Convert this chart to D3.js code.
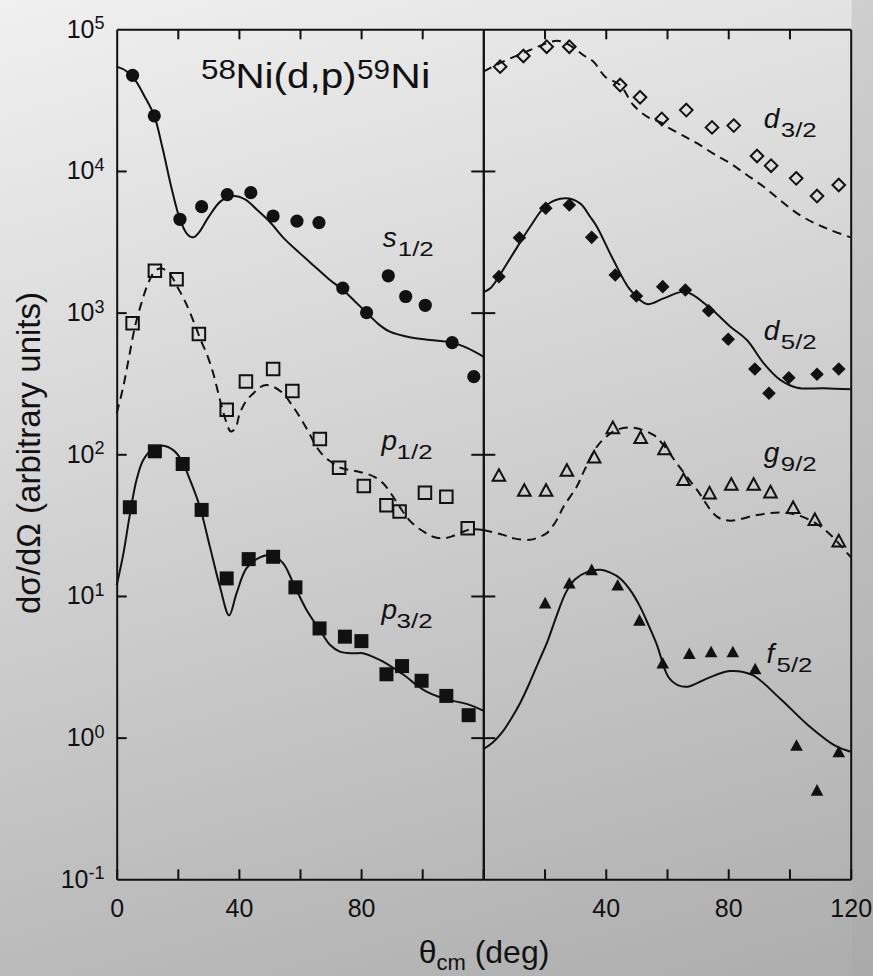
<!DOCTYPE html>
<html>
<head>
<meta charset="utf-8">
<script src="https://cdn.jsdelivr.net/npm/d3@7"></script>
<style>
  html, body { margin: 0; padding: 0; background: #dcdcdc; }
  svg { display: block; font-family: "Liberation Sans", Arial, Helvetica, sans-serif; }
</style>
</head>
<body>
<svg id="chart" width="873" height="976"></svg>
<script>
// 58Ni(d,p)59Ni angular distributions: measured points [theta_cm (deg), dsigma/dOmega]
const s12Data = [[5.2,47300],[12.3,24500],[20.7,4560],[27.8,5600],[36.2,6800],[43.9,7030],[51.2,4810],[59.0,4430],[66.2,4320],[74.0,1490],[81.8,1000],[88.9,1820],[94.6,1300],[101.0,1127],[109.8,614],[116.9,353]];
const p12Data = [[5.2,841],[12.5,1977],[19.6,1720],[26.9,706],[36.0,206],[42.3,326],[51.2,400],[57.5,280],[66.5,128],[72.8,80.5],[80.9,59.7],[88.3,43.6],[92.6,39.4],[100.9,53.6],[107.9,50.2],[114.9,30.1]];
const p32Data = [[4.3,42.3],[12.5,105],[21.6,85.4],[27.8,40.5],[36.0,13.3],[43.2,18.2],[51.2,18.9],[58.5,11.5],[66.4,5.9],[74.7,5.16],[80.1,4.8],[88.3,2.8],[93.4,3.2],[99.8,2.52],[107.9,1.97],[115.2,1.44]];
const d32Data = [[5.5,54500],[13.1,64800],[20.7,75400],[28.1,75400],[44.7,40400],[51.2,33100],[58.3,23300],[66.3,26900],[74.7,20300],[81.8,20900],[89.4,12760],[94.0,10900],[102.2,8870],[109.0,6650],[116.1,7960]];
const d52Data = [[5.1,1795],[11.8,3380],[20.4,5450],[28.1,5750],[35.4,3400],[43.1,1845],[50.0,1310],[58.6,1525],[66.0,1445],[73.6,1032],[80.0,649],[88.7,400],[93.3,270],[99.8,347],[109.0,367],[116.1,400]];
const g92Data = [[5.1,71.4],[13.4,56.0],[20.5,56.0],[27.3,77.5],[36.2,96.2],[42.3,155],[51.4,132],[59.2,110],[65.4,66.6],[73.9,53.6],[81.0,61.7],[88.3,61.7],[93.8,54.5],[101.2,42.3],[108.3,34.8],[116.1,24.6]];
const f52Data = [[20.2,8.97],[28.1,12.4],[35.4,15.4],[43.9,12.0],[51.0,6.78],[58.6,3.38],[67.3,3.94],[74.4,4.05],[81.5,4.05],[88.8,3.08],[102.3,0.887],[109.0,0.428],[116.1,0.8]];

// DWBA calculations, sampled along theta_cm
const s12Calc = [[0,54500],[3,51000],[6,44000],[9,34000],[12.3,24500],[15,14500],[18,7500],[20.7,4560],[23,3600],[25,3400],[27,3700],[30,4700],[34,6100],[38,6650],[42,6300],[46,5300],[50,4400],[55,3300],[60,2620],[65,2100],[69.8,1700],[74,1450],[78,1200],[81.8,1000],[86,820],[89.4,734],[95.9,670],[102.5,641],[109.9,614],[115,560],[120,490]];
const p12Calc = [[0,195],[2,290],[4,480],[6,800],[8,1150],[10,1550],[12,1900],[14,2050],[16,2000],[18,1800],[20,1500],[22,1250],[24,1000],[26,780],[27.5,640],[29.4,516],[31.6,373],[33.8,242],[36,166],[37.3,145],[38.8,152],[40.3,195],[42.5,240],[44.7,269],[47,298],[49,308],[51.5,298],[54.5,269],[57.2,225],[59.9,184],[62.7,145],[65.4,113],[68,96],[70.8,86.5],[73.5,80],[76.3,77.5],[79,75.5],[81.8,73],[84.5,69],[87.2,62.5],[90,52],[92.6,42.7],[95.4,35],[98.1,30.8],[101,28],[103.5,26.2],[106.8,25.5],[110,26.5],[113,28.2],[116,29.5],[120,29.2]];
const p32Calc = [[0,11.9],[2.2,20],[4.35,38],[6.5,66],[8.7,91],[12,110],[15.3,115],[18.5,107],[21.2,91],[24,66],[27.2,42.7],[30.5,22.3],[33.8,11.6],[36.8,7.3],[39.2,10.4],[42.5,15.7],[46.9,18.7],[50.7,19.5],[54.5,17],[57.8,12.3],[62.1,8.0],[66.5,5.75],[69.8,4.52],[73,4.05],[77.4,3.94],[80.6,3.94],[83.9,3.72],[87.2,3.44],[91.6,3.0],[94.8,2.69],[98.1,2.35],[101.4,2.11],[105.2,1.95],[109,1.84],[114.5,1.73],[120,1.55]];
const d32Calc = [[0,50200],[3.5,55000],[7.6,60700],[11.5,66000],[15.3,71400],[19.5,78000],[24,83100],[27,80000],[30.5,71400],[33,65000],[36,59000],[39.8,46300],[44.7,40400],[49,29200],[53.9,23900],[58,22000],[60,20500],[65.4,17700],[69.8,15700],[75,13300],[80.7,11300],[86,9400],[91.6,7740],[97,6200],[102.5,5020],[108,4300],[113.4,3830],[120,3400]];
const d52Calc = [[0,1390],[2.5,1500],[5.1,1800],[9.8,2620],[15.3,4040],[20.7,5750],[26.7,6410],[31.6,5910],[34.9,4750],[37.1,4040],[42.5,2350],[48,1445],[53.4,1150],[58.9,1260],[66,1405],[73.6,1100],[80.7,796],[86.1,641],[91.6,439],[97,335],[102.5,295],[111.2,292],[120,288]];
const g92Calc = [[0,29.2],[6.5,27],[10,25.5],[15.3,24.9],[18.5,26.2],[20.7,27.7],[24,34.4],[26.2,42.7],[30.5,59],[33,77],[37.1,113],[40,132],[43.6,149],[49,154],[55.6,137],[59,115],[63.2,86.4],[69.8,56],[76.3,36.3],[80.7,34],[89.4,37.3],[97,38.8],[102.5,37.3],[109,32.2],[113,27.5],[116.1,23.5],[120,18.8]];
const f52Calc = [[0,0.83],[3,0.92],[6,1.08],[9,1.35],[12,1.75],[15,2.4],[18,3.4],[21,4.8],[24,7.3],[27,10.6],[30,13.1],[34,14.8],[38.2,15.3],[41.5,14.6],[44.7,13.3],[48,11.0],[51.2,8.41],[54,6.2],[56.7,4.52],[60.4,2.69],[63.5,2.35],[66.8,2.29],[73.2,2.62],[80.5,2.95],[87.8,2.77],[96.9,1.89],[106,1.23],[115.1,0.873],[120,0.796]];

// tick values and labels
const yDecades = [1e5, 1e4, 1e3, 1e2, 1e1, 1e0, 1e-1];
const xTicks = [0, 20, 40, 60, 80, 100, 120];
const xLabelsLeft = [0, 40, 80];
const xLabelsRight = [40, 80, 120];

const svg = d3.select("#chart");
const W = 873, H = 976;
const ink = "#111";

// ---- background ----
const defs = svg.append("defs");
const bg = defs.append("linearGradient").attr("id", "bg")
  .attr("gradientUnits", "userSpaceOnUse")
  .attr("x1", 0).attr("y1", 0).attr("x2", 317).attr("y2", 1132);
bg.append("stop").attr("offset", 0).attr("stop-color", "#f0f0f0");
bg.append("stop").attr("offset", 1).attr("stop-color", "#adadad");
const edge = defs.append("linearGradient").attr("id", "edge")
  .attr("x1", 0).attr("y1", 0).attr("x2", 0).attr("y2", 1);
edge.append("stop").attr("offset", 0).attr("stop-color", "#000").attr("stop-opacity", 0.09);
edge.append("stop").attr("offset", 1).attr("stop-color", "#000").attr("stop-opacity", 0.02);
svg.append("rect").attr("width", W).attr("height", H).attr("fill", "url(#bg)");

// ---- scales ----
const x0 = 116.7, xMid = 483.3, x1 = 850.7, yTop = 29.3, yBot = 879.3;
svg.append("rect").attr("x", x1 + 1).attr("y", 0).attr("width", W - x1 - 1).attr("height", H).attr("fill", "url(#edge)");

const xL = d3.scaleLinear().domain([0, 120]).range([x0, xMid]);
const xR = d3.scaleLinear().domain([0, 120]).range([xMid, x1]);
const y = d3.scaleLog().domain([0.1, 1e5]).range([yBot, yTop]);

// ---- calculated curves ----
function curve(data, xs, dashed) {
  const line = d3.line().x(d => xs(d[0])).y(d => y(d[1])).curve(d3.curveCatmullRom.alpha(0.5));
  svg.append("path").datum(data).attr("d", line)
    .attr("fill", "none").attr("stroke", ink).attr("stroke-width", 2)
    .attr("stroke-dasharray", dashed ? "9,6" : null)
    .attr("stroke-linejoin", "round");
}
curve(s12Calc, xL, false);
curve(p12Calc, xL, true);
curve(p32Calc, xL, false);
curve(d32Calc, xR, true);
curve(d52Calc, xR, false);
curve(g92Calc, xR, true);
curve(f52Calc, xR, false);

// ---- marker shapes (size = full width in px, squared) ----
const square = { draw(ctx, size) { const h = Math.sqrt(size) / 2; ctx.rect(-h, -h, 2 * h, 2 * h); } };
const diamond = { draw(ctx, size) { const r = Math.sqrt(size) / 2; ctx.moveTo(0, -r); ctx.lineTo(r, 0); ctx.lineTo(0, r); ctx.lineTo(-r, 0); ctx.closePath(); } };
const triangle = { draw(ctx, size) { const w = Math.sqrt(size) / 2, h = w * 0.92; ctx.moveTo(0, -h); ctx.lineTo(w, h); ctx.lineTo(-w, h); ctx.closePath(); } };

function points(data, xs, type, size, filled) {
  const sym = d3.symbol().type(type).size(size);
  svg.append("g").selectAll("path").data(data).join("path")
    .attr("transform", d => `translate(${xs(d[0])},${y(d[1])})`)
    .attr("d", sym)
    .attr("fill", filled ? ink : "none")
    .attr("stroke", filled ? "none" : ink)
    .attr("stroke-width", filled ? 0 : 2)
    .attr("stroke-linejoin", "miter");
}
points(s12Data, xL, d3.symbolCircle, Math.PI * 6.6 * 6.6, true);
points(p12Data, xL, square, 12.5 * 12.5, false);
points(p32Data, xL, square, 14 * 14, true);
points(d32Data, xR, diamond, 12.6 * 12.6, false);
points(d52Data, xR, diamond, 13.6 * 13.6, true);
points(g92Data, xR, triangle, 12.6 * 12.6, false);
points(f52Data, xR, triangle, 12.6 * 12.6, true);

// ---- axes ----
function styleAxis(g) {
  g.select(".domain").attr("stroke", ink).attr("stroke-width", 2);
  g.selectAll(".tick line").attr("stroke", ink).attr("stroke-width", 2);
  g.selectAll(".tick text").attr("fill", ink).attr("font-size", 25).attr("font-family", "Liberation Sans, Arial, sans-serif");
}
// bottom
svg.append("g").attr("transform", `translate(0,${yBot})`)
  .call(d3.axisBottom(xL).tickValues(xTicks).tickSize(-10).tickSizeOuter(0).tickPadding(20)
    .tickFormat(d => xLabelsLeft.includes(d) ? d : ""))
  .call(styleAxis);
svg.append("g").attr("transform", `translate(0,${yBot})`)
  .call(d3.axisBottom(xR).tickValues(xTicks).tickSize(-10).tickSizeOuter(0).tickPadding(20)
    .tickFormat(d => xLabelsRight.includes(d) ? d : ""))
  .call(styleAxis);
// top
svg.append("g").attr("transform", `translate(0,${yTop})`)
  .call(d3.axisTop(xL).tickValues(xTicks.slice(1, -1)).tickSize(-10).tickSizeOuter(0).tickFormat(""))
  .call(styleAxis);
svg.append("g").attr("transform", `translate(0,${yTop})`)
  .call(d3.axisTop(xR).tickValues(xTicks.slice(1, -1)).tickSize(-10).tickSizeOuter(0).tickFormat(""))
  .call(styleAxis);
// left
const innerDecades = yDecades.slice(1, -1);
svg.append("g").attr("transform", `translate(${x0},0)`)
  .call(d3.axisLeft(y).tickValues(innerDecades).tickSize(-10).tickSizeOuter(0).tickFormat(""))
  .call(styleAxis);
// panel divider with crossing ticks
svg.append("g").attr("transform", `translate(${xMid},0)`)
  .call(d3.axisLeft(y).tickValues(innerDecades).tickSize(12).tickSizeOuter(0).tickFormat(""))
  .call(styleAxis);
svg.append("g").attr("transform", `translate(${xMid},0)`)
  .call(d3.axisRight(y).tickValues(innerDecades).tickSize(12).tickSizeOuter(0).tickFormat(""))
  .call(styleAxis);
// right
svg.append("g").attr("transform", `translate(${x1},0)`)
  .call(d3.axisRight(y).tickValues([]).tickSizeOuter(0))
  .call(styleAxis);

// y tick labels: 10^n
const yl = svg.append("g").attr("fill", ink).attr("text-anchor", "end");
yDecades.forEach(v => {
  const e = Math.round(Math.log10(v));
  const t = yl.append("text").attr("x", 104.5).attr("y", y(v) + 8.5).attr("font-size", 25);
  t.append("tspan").text("10");
  t.append("tspan").attr("dy", -8.5).attr("font-size", 18).text(e < 0 ? "-" + (-e) : String(e));
});

// ---- axis titles ----
const xt = svg.append("text").attr("x", 484).attr("y", 963).attr("text-anchor", "middle")
  .attr("fill", ink).attr("font-size", 32);
xt.append("tspan").text("θ");
xt.append("tspan").attr("dy", 7).attr("font-size", 22).text("cm");
xt.append("tspan").attr("dy", -7).text(" (deg)");

svg.append("text").attr("transform", `translate(40,453) rotate(-90)`)
  .attr("text-anchor", "middle").attr("fill", ink).attr("font-size", 33)
  .text("dσ/dΩ (arbitrary units)");

// ---- reaction title ----
const title = svg.append("g").attr("fill", ink);
title.append("text").attr("x", 201).attr("y", 79.3).attr("font-size", 27).attr("textLength", 35).attr("lengthAdjust", "spacingAndGlyphs").text("58");
title.append("text").attr("x", 235.5).attr("y", 88.3).attr("font-size", 35).attr("textLength", 121).attr("lengthAdjust", "spacingAndGlyphs").text("Ni(d,p)");
title.append("text").attr("x", 357).attr("y", 79.3).attr("font-size", 27).attr("textLength", 33).attr("lengthAdjust", "spacingAndGlyphs").text("59");
title.append("text").attr("x", 390.3).attr("y", 88.3).attr("font-size", 35).attr("textLength", 40).attr("lengthAdjust", "spacingAndGlyphs").text("Ni");

// ---- orbital labels ----
function orbital(xs, deg, val, letter, sub, adv) {
  const px = xs(deg), py = y(val);
  svg.append("text").attr("x", px).attr("y", py).attr("font-size", 28).attr("font-style", "italic")
    .attr("fill", ink).text(letter);
  svg.append("text").attr("x", px + adv).attr("y", py + 9).attr("font-size", 21)
    .attr("textLength", 36).attr("lengthAdjust", "spacingAndGlyphs").attr("fill", ink).text(sub);
}
orbital(xL, 87.1, 2904, "s", "1/2", 15);
orbital(xL, 86.7, 107, "p", "1/2", 15);
orbital(xL, 86.7, 6.88, "p", "3/2", 15);
orbital(xR, 91.6, 20000, "d", "3/2", 17);
orbital(xR, 91.6, 641, "d", "5/2", 17);
orbital(xR, 91.6, 88.3, "g", "9/2", 17);
orbital(xR, 92.5, 3.37, "f", "5/2", 10);
</script>
</body>
</html>
